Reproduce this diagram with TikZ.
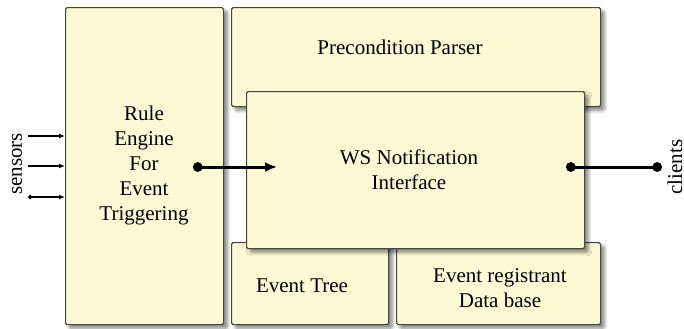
\documentclass[tikz,border=0pt]{standalone}
\usepackage{fontspec}
\setmainfont{Liberation Serif}
\usetikzlibrary{arrows.meta, positioning, shadows.blur}
\definecolor{boxfill}{RGB}{250,250,212}
\definecolor{boxline}{RGB}{70,70,60}
\tikzset{
  unit/.style={draw=boxline, fill=boxfill, line width=0.6pt, rounded corners=0.8pt,
    inner sep=0pt, align=center, anchor=north west,
    blur shadow={shadow xshift=1.8pt, shadow yshift=-1.8pt, shadow blur steps=6, shadow opacity=50}},
  lbl/.style={align=center, font=\fontsize{10.5}{12.5}\selectfont},
  feed/.style={line width=0.6pt, -{Latex[length=3pt,width=2.4pt]}},
  link/.style={line width=1.5pt, {Circle[length=4.8pt]}-{Latex[length=6pt,width=5pt]}},
}
\begin{document}
\begin{tikzpicture}[x=0.5pt, y=-0.5pt]
\useasboundingbox (0,0) rectangle (684,328);

% Boxes
\node[unit, minimum width=79pt, minimum height=158.5pt] (rule) at (65,7) {};
\node[lbl] (ruletext) at (144,165) {Rule\\Engine\\For\\Event\\Triggering};

\node[unit, minimum width=184.5pt, minimum height=49.5pt] (pre) at (231,7) {};
\node[lbl] (pretext) at (400,47) {Precondition Parser};

\node[unit, minimum width=78.5pt, minimum height=41pt] (tree) at (231,242) {};
\node[lbl] (treetext) at (302,286) {Event Tree};

\node[unit, minimum width=102pt, minimum height=41pt] (reg) at (396,242) {};
\node[lbl] (regtext) at (500,288) {Event registrant\\Data base};

\node[unit, minimum width=169pt, minimum height=78.5pt] (ws) at (246,91) {};
\node[lbl] (wstext) at (409,170) {WS Notification\\Interface};

% Sensors
\node[lbl, rotate=90] (sensors) at (17,164) {sensors};
\coordinate (s1) at (28,136);
\coordinate (s2) at (28,166);
\coordinate (s3) at (28,197);
\draw[feed] (s1) -- (s1 -| rule.west);
\draw[feed] (s2) -- (s2 -| rule.west);
\draw[feed, {Circle[length=2.2pt]}-{Latex[length=3pt,width=2.4pt]}] (s3) -- (s3 -| rule.west);

% Links
\coordinate (ruleout) at (193,167);
\coordinate (wsin) at (277,167);
\draw[link] (ruleout) -- (wsin);

\node[lbl, rotate=90] (clients) at (675,167) {clients};
\coordinate (wsout) at (566,167);
\coordinate (clientin) at (662,167);
\draw[line width=1.5pt, {Circle[length=4.8pt]}-{Circle[length=4.8pt]}] (wsout) -- (clientin);
\end{tikzpicture}
\end{document}
